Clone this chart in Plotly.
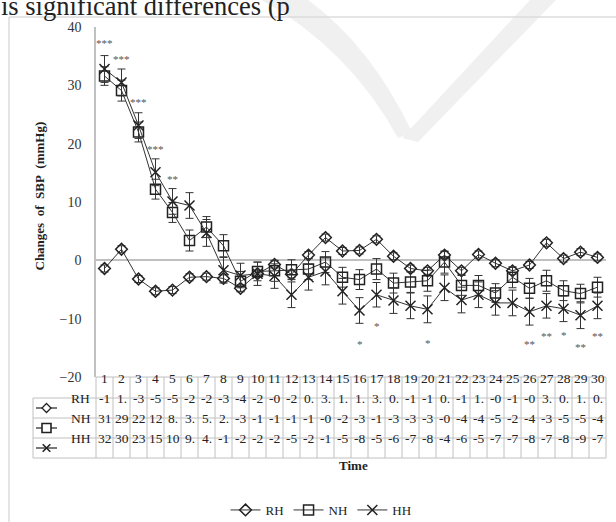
import plotly.graph_objects as go

# ---------------- data ----------------
days = list(range(1, 31))
series_names = ["RH", "NH", "HH"]
rh = [-1.4, 1.9, -3.2, -5.3, -5.1, -2.9, -2.8, -3.1, -4.8, -2.3, -0.7, -2.4, 0.9, 3.9, 1.6,
      1.7, 3.6, 0.7, -1.4, -1.8, 0.9, -1.8, 1.0, -0.5, -1.8, -0.8, 3.0, 0.3, 1.4, 0.5]
nh = [31.6, 29.1, 22.0, 12.2, 8.2, 3.4, 5.7, 2.5, -3.6, -1.9, -1.8, -1.6, -1.5, -0.3, -2.9,
      -3.3, -1.5, -3.9, -3.7, -3.5, -0.3, -4.3, -4.3, -5.6, -2.9, -4.8, -3.5, -5.2, -5.7, -4.6]
hh = [32.8, 30.5, 23.1, 15.1, 10.1, 9.4, 4.7, -1.7, -2.6, -2.3, -2.7, -5.9, -2.9, -1.9, -5.3,
      -8.6, -5.9, -6.9, -7.8, -8.4, -4.7, -6.8, -5.9, -7.3, -7.3, -8.8, -7.8, -8.3, -9.4, -7.8]
rh_err = [0.6, 0.6, 0.6, 0.6, 0.6, 0.6, 0.6, 0.6, 0.6, 0.6, 0.6, 0.6, 0.6, 0.6, 0.6,
          0.6, 0.6, 0.6, 0.6, 0.6, 0.6, 0.6, 0.6, 0.6, 0.6, 0.6, 0.6, 0.6, 0.6, 0.6]
nh_err = [1.6, 1.8, 1.7, 1.7, 1.7, 1.8, 1.8, 1.9, 1.7, 1.6, 1.8, 1.7, 1.8, 1.8, 1.7,
          1.7, 1.8, 1.7, 1.8, 1.8, 1.9, 1.7, 1.7, 1.6, 1.8, 1.7, 1.8, 1.7, 1.6, 1.7]
hh_err = [2.3, 2.3, 2.2, 2.3, 2.2, 2.2, 2.3, 2.2, 2.1, 2.0, 2.1, 2.2, 2.2, 2.3, 2.2,
          2.2, 2.1, 2.2, 2.2, 2.3, 2.2, 2.2, 2.2, 2.1, 2.2, 2.3, 2.1, 2.2, 2.3, 2.2]

sig_day = [1, 2, 3, 4, 5, 16, 17, 20, 26, 27, 28, 29, 30]
sig_mark = ["***", "***", "***", "***", "**", "*", "*", "*", "**", "**", "*", "**", "**"]
sig_y = [37.2, 34.5, 27.1, 19.1, 13.9, -14.3, -11.3, -14.2, -14.3, -13.0, -12.8, -14.8, -12.9]

y_ticks = [-20, -10, 0, 10, 20, 30, 40]

# ---------------- layout geometry (pixels) ----------------
FW, FH = 616, 522
L, R, T, B = 96, 606, 27, 377
W, H = R - L, B - T


def px(x):
    return (x - L) / W


def py(y):
    return (B - y) / H


SERIF = "Liberation Serif, Times New Roman, serif"
INK = "#222222"
GRID = "#c0c0c0"

fig = go.Figure()

styles = {
    "RH": dict(symbol="diamond-open", size=9),
    "NH": dict(symbol="square-open", size=10),
    "HH": dict(symbol="x-thin-open", size=10),
}
for name, vals, err in zip(series_names, [rh, nh, hh], [rh_err, nh_err, hh_err]):
    st = styles[name]
    fig.add_trace(go.Scatter(
        x=days, y=vals, name=name, mode="lines+markers",
        line=dict(color="#333333", width=1),
        marker=dict(symbol=st["symbol"], size=st["size"], color=INK,
                    line=dict(color=INK, width=1.5)),
        error_y=dict(type="data", array=err, visible=True, color="#333333",
                     thickness=1, width=4),
        cliponaxis=False,
    ))

annotations = []
shapes = []

# significance marks
for d, m, yv in zip(sig_day, sig_mark, sig_y):
    annotations.append(dict(x=d, y=yv, xref="x", yref="y", text=m, showarrow=False,
                            font=dict(family=SERIF, size=11, color="#555555")))

# ---------------- data table ----------------
row_y = [388, 408, 428, 448]
shapes.append(dict(type="line", xref="paper", yref="paper", x0=px(L), x1=px(R),
                   y0=py(377), y1=py(377), line=dict(color=GRID, width=1)))
for yy in [398, 418, 438, 458]:
    shapes.append(dict(type="line", xref="paper", yref="paper", x0=px(33), x1=px(R),
                       y0=py(yy), y1=py(yy), line=dict(color=GRID, width=1)))
for k in range(len(days) + 1):
    xx = L + k * W / len(days)
    shapes.append(dict(type="line", xref="paper", yref="paper", x0=px(xx), x1=px(xx),
                       y0=py(377), y1=py(458), line=dict(color=GRID, width=1)))
shapes.append(dict(type="line", xref="paper", yref="paper", x0=px(33), x1=px(33),
                   y0=py(398), y1=py(458), line=dict(color=GRID, width=1)))

cell_font = dict(family=SERIF, size=13.5, color=INK)
for d in days:
    annotations.append(dict(x=d, y=py(row_y[0]), xref="x", yref="paper", text=str(d),
                            showarrow=False, font=cell_font))
for r, vals in enumerate([rh, nh, hh]):
    for d, v in zip(days, vals):
        annotations.append(dict(x=d, y=py(row_y[r + 1]), xref="x", yref="paper",
                                text=f"{v:.1f}"[:2], showarrow=False, font=cell_font))

# row headers with legend keys
for r, name in enumerate(series_names):
    cy = row_y[r + 1]
    shapes.append(dict(type="line", xref="paper", yref="paper", x0=px(36), x1=px(57),
                       y0=py(cy), y1=py(cy), line=dict(color=INK, width=1.2)))
    cx = 46.5
    if name == "RH":
        path = (f"M {px(cx)},{py(cy-4.5)} L {px(cx+4.5)},{py(cy)} L {px(cx)},{py(cy+4.5)} "
                f"L {px(cx-4.5)},{py(cy)} Z")
        shapes.append(dict(type="path", xref="paper", yref="paper", path=path,
                           fillcolor="white", line=dict(color=INK, width=1.3)))
    elif name == "NH":
        shapes.append(dict(type="rect", xref="paper", yref="paper", x0=px(cx-4.5), x1=px(cx+4.5),
                           y0=py(cy+4.5), y1=py(cy-4.5), fillcolor="white",
                           line=dict(color=INK, width=1.6)))
    else:
        for sgn in (1, -1):
            shapes.append(dict(type="line", xref="paper", yref="paper", x0=px(cx-3.8),
                               x1=px(cx+3.8), y0=py(cy-3.8*sgn), y1=py(cy+3.8*sgn),
                               line=dict(color=INK, width=1.6)))
    annotations.append(dict(x=px(69), y=py(cy), xref="paper", yref="paper", text=name,
                            xanchor="left", showarrow=False, font=cell_font))

# axis titles
annotations.append(dict(x=px(353), y=py(475), xref="paper", yref="paper", text="<b>Time</b>",
                        showarrow=False, font=dict(family=SERIF, size=13, color=INK)))
annotations.append(dict(x=px(29), y=py(196), xref="paper", yref="paper",
                        text="<b>Changes\u00a0 of\u00a0 SBP\u00a0 (mmHg)</b>", textangle=-90,
                        showarrow=False, font=dict(family=SERIF, size=13, color=INK)))

# page fragment above the chart
annotations.append(dict(x=px(-1), y=py(6), xref="paper", yref="paper",
                        text="is significant differences (p", xanchor="left", yanchor="middle",
                        showarrow=False, font=dict(family=SERIF, size=26.5, color=INK)))
shapes.append(dict(type="line", xref="paper", yref="paper", x0=px(9), x1=px(FW),
                   y0=py(17), y1=py(17), line=dict(color="#dcdcdc", width=1.5)))
shapes.append(dict(type="line", xref="paper", yref="paper", x0=px(9), x1=px(9),
                   y0=py(17), y1=py(FH), line=dict(color="#dcdcdc", width=1.5)))

# faint watermark strokes
p = [(262, 0), (350, 50), (398, 138), (412, 132), (370, 45), (308, 0)]
path_l = (f"M {px(p[0][0])},{py(p[0][1])} Q {px(p[1][0])},{py(p[1][1])} {px(p[2][0])},{py(p[2][1])} "
          f"L {px(p[3][0])},{py(p[3][1])} Q {px(p[4][0])},{py(p[4][1])} {px(p[5][0])},{py(p[5][1])} Z")
wm_right = [(530, 0), (556, 0), (418, 142), (402, 138)]
path_r = "M " + " L ".join(f"{px(a)},{py(b)}" for a, b in wm_right) + " Z"
for pth in (path_l, path_r):
    shapes.append(dict(type="path", xref="paper", yref="paper", path=pth, layer="below",
                       fillcolor="#f0f0f0", line=dict(width=0)))

fig.update_layout(
    width=FW, height=FH,
    margin=dict(l=L, r=FW - R, t=T, b=FH - B, pad=0, autoexpand=False),
    paper_bgcolor="white", plot_bgcolor="rgba(0,0,0,0)",
    showlegend=True,
    legend=dict(orientation="h", x=px(321), xanchor="center", y=py(510), yanchor="middle",
                font=dict(family=SERIF, size=13, color=INK), bgcolor="rgba(0,0,0,0)",
                itemclick=False),
    xaxis=dict(range=[0.5, 30.5], showticklabels=False, showgrid=False, zeroline=False,
               showline=False, ticks=""),
    yaxis=dict(range=[-20, 40], tickvals=y_ticks, showgrid=False, zeroline=True,
               zerolinecolor=GRID, zerolinewidth=1.5, showline=True, linecolor=GRID,
               linewidth=1.5, ticks="", ticklabelstandoff=10,
               tickfont=dict(family=SERIF, size=14, color="#333333")),
    annotations=annotations,
    shapes=shapes,
)

fig.write_html("out.html", config={"displayModeBar": False},
               post_script="document.body.style.margin='0px';document.body.style.overflow='hidden';")
